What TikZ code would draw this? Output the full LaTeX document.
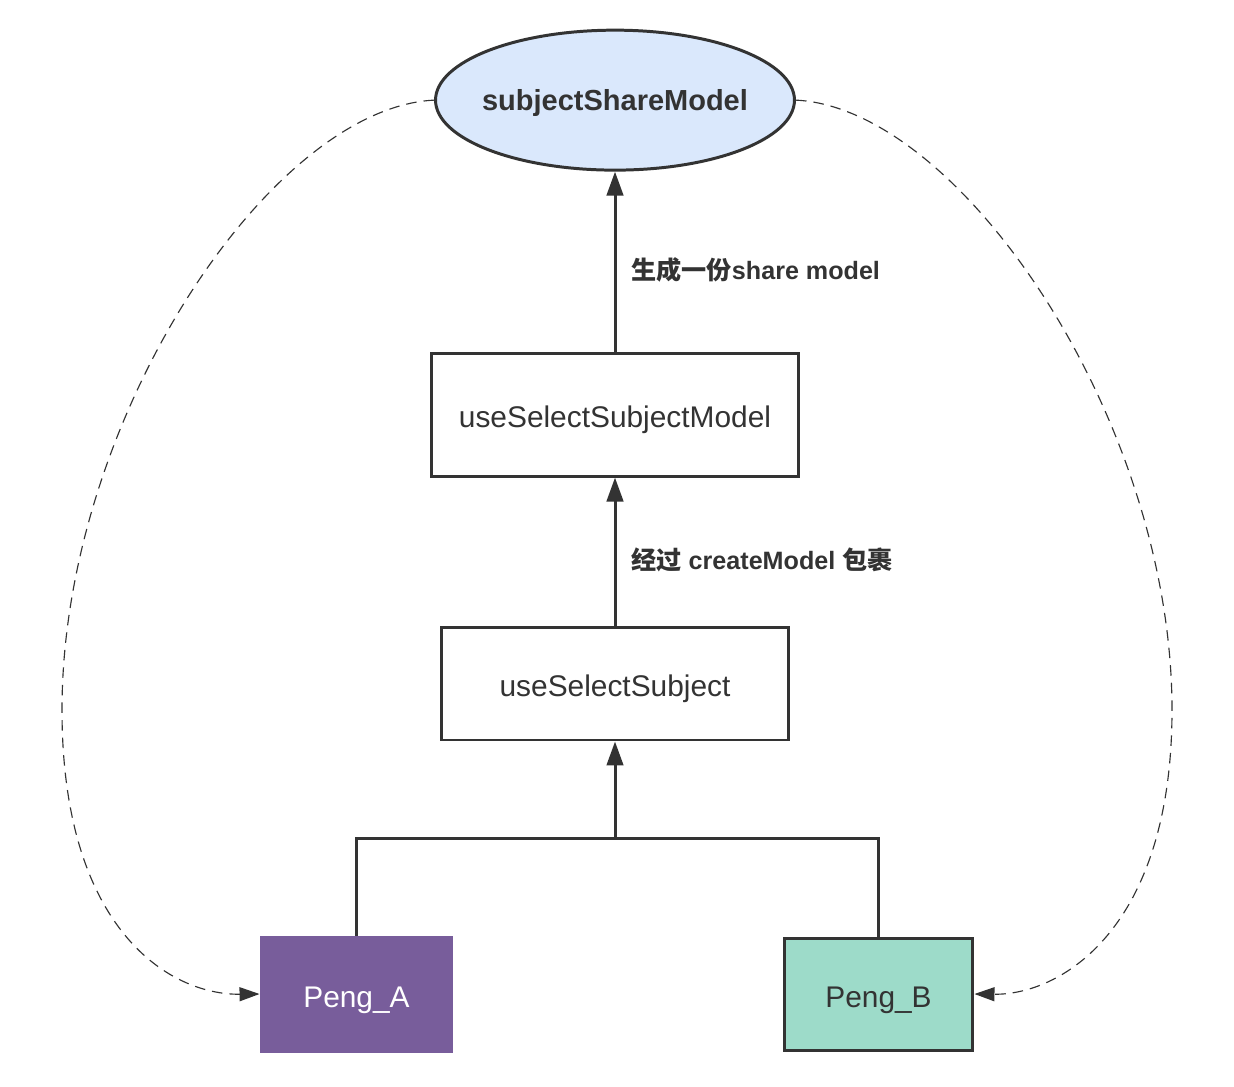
\documentclass[tikz,border=0pt]{standalone}
\usepackage{fontspec}
\setmainfont{Liberation Sans}
\newfontfamily\cjk{Noto Sans CJK SC}
\usetikzlibrary{positioning,shapes.geometric,arrows.meta}

\definecolor{linegray}{HTML}{333333}
\definecolor{shareblue}{HTML}{DAE8FC}
\definecolor{pengpurple}{HTML}{785D9B}
\definecolor{pengteal}{HTML}{9DDBC9}

\tikzset{
  hookbox/.style={draw=linegray, line width=1.7pt, text=linegray,
    font=\fontsize{17}{20}\selectfont, inner sep=0pt,
    text height=0.53cm, text depth=0pt},
  flow/.style={draw=linegray, line width=1.7pt,
    -{Triangle[length=0.48cm,width=0.33cm]}},
  tree/.style={draw=linegray, line width=1.7pt},
  link/.style={draw=linegray, line width=0.65pt, dash pattern=on 6pt off 4pt,
    -{Triangle[length=0.4cm,width=0.28cm]}},
  steplabel/.style={text=linegray, font=\fontsize{14.3}{16}\selectfont\bfseries,
    anchor=west, inner sep=0pt}
}

\begin{document}
\begin{tikzpicture}[x=0.02cm,y=-0.02cm]
    \useasboundingbox (0,0) rectangle (1234,1086);

    % main column
    \node[hookbox, minimum width=6.96cm, minimum height=2.26cm] (sel) at (615,683.5) {useSelectSubject};
    \node[hookbox, minimum width=7.36cm, minimum height=2.46cm, above=2.96cm of sel] (selmodel) {useSelectSubjectModel};
    \node[hookbox, ellipse, fill=shareblue, minimum width=7.16cm, minimum height=2.8cm, inner xsep=-0.12cm,
          text height=0.42cm, font=\fontsize{16.5}{20}\selectfont\bfseries, above=3.6cm of selmodel] (share) {subjectShareModel};

    % the two pages
    \node[hookbox, draw=pengpurple, fill=pengpurple, text=white, minimum width=3.82cm, minimum height=2.28cm] (pa) at (356.5,994) {Peng\_A};
    \node[hookbox, fill=pengteal, minimum width=3.78cm, minimum height=2.24cm] (pb) at (878.5,994) {Peng\_B};

    \coordinate (join) at (615,838);

    \draw[tree] (pa.north) |- (join) -| (pb.north);
    \draw[flow] (join) -- (sel);
    \draw[flow] (sel) -- node[steplabel, xshift=0.3cm, yshift=-0.16cm] {{\cjk 经过} createModel {\cjk 包裹}} (selmodel);
    \draw[flow] (selmodel) -- node[steplabel, xshift=0.3cm, yshift=-0.16cm] {{\cjk 生成一份}share model} (share);

    % dashed links
    \draw[link] (share.west) .. controls (270,108) and (62,420) .. (62,710)
                .. controls (62,930) and (170,995) .. (pa.west);
    \draw[link] (share.east) .. controls (960,108) and (1172,420) .. (1172,710)
                .. controls (1172,930) and (1060,995) .. (pb.east);
\end{tikzpicture}
\end{document}
